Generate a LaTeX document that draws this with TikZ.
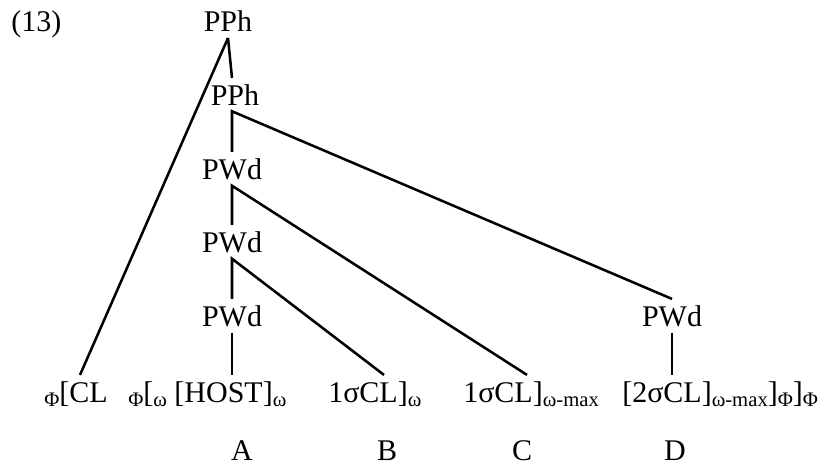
\documentclass[tikz,border=0pt]{standalone}
\usepackage{fontspec}
\setmainfont{Liberation Serif}
\newcommand{\sbs}[1]{\raisebox{-0.15em}{\fontsize{15.5}{16}\selectfont #1}}

\begin{document}
\begin{tikzpicture}[x=0.75pt,y=-0.75pt,
  lbl/.style={inner xsep=0pt,inner ysep=4.5pt,font=\fontsize{22.5}{26}\selectfont},
  br/.style={line width=1.9pt}]
 \useasboundingbox (0,0) rectangle (830,468);
 \def\bl{402}

 \node[lbl,anchor=base west] (ex) at (11,31.7) {(13)};
 \node[lbl,anchor=base] (pph1) at (228,31.7) {PPh};
 \node[lbl,anchor=base] (pph2) at (235,105) {PPh};
 \node[lbl,anchor=base] (pwd1) at (232,179) {PWd};
 \node[lbl,anchor=base] (pwd2) at (232,252) {PWd};
 \node[lbl,anchor=base] (pwd3) at (232,326) {PWd};
 \node[lbl,anchor=base] (pwd4) at (672,326) {PWd};

 \node[lbl,anchor=base west] (cl) at (44,\bl) {\sbs{Φ}[CL};
 \node[lbl,anchor=base west] (host) at (128,\bl) {\sbs{Φ}[\sbs{ω} [HOST]\sbs{ω}};
 \node[lbl,anchor=base west] (clw) at (328,\bl) {1σCL]\sbs{ω}};
 \node[lbl,anchor=base west] (cmax) at (463,\bl) {1σCL]\sbs{ω-max}};
 \node[lbl,anchor=base west] (dd) at (622,\bl) {[2σCL]\sbs{ω-max}]\sbs{Φ}]\sbs{Φ}};

 \node[lbl,inner ysep=0pt,anchor=base] (a) at (242,460) {A};
 \node[lbl,inner ysep=0pt,anchor=base] (b) at (387,460) {B};
 \node[lbl,inner ysep=0pt,anchor=base] (c) at (522,460) {C};
 \node[lbl,inner ysep=0pt,anchor=base] (d) at (675,460) {D};

 \draw[br] (pph1.south) -- ([xshift=27pt]cl.north west);
 \draw[br] (pph1.south) -- (pph2.north -| pwd1);
 \draw[br] (pwd1.north) -- (pph2.south -| pwd1) -- (pwd4.north);
 \draw[br] (pwd2.north) -- (pwd1.south) -- ([xshift=48pt]cmax.north west);
 \draw[br] (pwd3.north) -- (pwd2.south) -- ([xshift=42pt]clw.north west);
 \draw[br] (pwd3.south) -- (pwd3.south |- host.north);
 \draw[br] (pwd4.south) -- (pwd4.south |- dd.north);
\end{tikzpicture}
\end{document}
